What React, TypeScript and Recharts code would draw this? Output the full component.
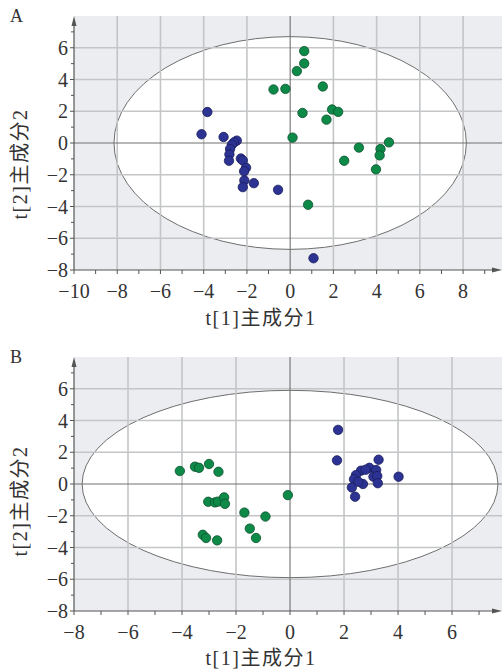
import React from 'react';
import { ScatterChart, Scatter, XAxis, YAxis, ReferenceArea, ReferenceLine, CartesianGrid } from 'recharts';

// ---------- data ----------
const greenA: [number, number][] = [
  [0.65, 5.79], [0.65, 5.01], [0.31, 4.53], [-0.77, 3.37], [-0.22, 3.41], [1.51, 3.56],
  [0.57, 1.89], [1.94, 2.11], [2.22, 1.96], [1.68, 1.47], [0.11, 0.34], [3.18, -0.29],
  [4.57, 0.04], [4.18, -0.38], [4.14, -0.78], [3.97, -1.66], [2.5, -1.12], [0.83, -3.89],
];
const blueA: [number, number][] = [
  [-3.83, 1.95], [-4.1, 0.55], [-3.08, 0.38], [-2.47, 0.15], [-2.6, 0.04], [-2.7, -0.11],
  [-2.78, -0.38], [-2.81, -0.72], [-2.83, -1.12], [-2.28, -0.98], [-2.19, -1.1], [-2.04, -1.56],
  [-2.13, -1.78], [-2.12, -2.36], [-1.68, -2.53], [-2.19, -2.78], [-0.56, -2.95], [1.08, -7.26],
];
const greenB: [number, number][] = [
  [-4.08, 0.82], [-3.52, 1.09], [-3.37, 1.02], [-3.0, 1.26], [-2.65, 0.77], [-3.03, -1.12],
  [-2.78, -1.16], [-2.67, -1.11], [-2.44, -0.84], [-2.41, -1.25], [-1.69, -1.8], [-0.91, -2.05],
  [-1.49, -2.81], [-1.26, -3.4], [-3.23, -3.2], [-3.11, -3.4], [-2.7, -3.55], [-0.08, -0.7],
];
const blueB: [number, number][] = [
  [1.78, 3.41], [1.74, 1.49], [3.28, 1.53], [4.02, 0.46], [2.94, 1.02], [2.63, 0.84],
  [2.8, 0.9], [3.19, 0.88], [2.44, 0.56], [2.37, 0.3], [3.09, 0.46], [3.23, 0.5],
  [3.25, 0.05], [2.7, 0.0], [2.53, 0.14], [2.29, -0.22], [2.41, -0.8],
];

const xDomainA: [number, number] = [-10, 9.8];
const xDomainB: [number, number] = [-8, 7.85];
const yDomain: [number, number] = [-8, 8];

const xLabelsA = [-10, -8, -6, -4, -2, 0, 2, 4, 6, 8];
const xTicksA = [-10, -9, -8, -7, -6, -5, -4, -3, -2, -1, 0, 1, 2, 3, 4, 5, 6, 7, 8, 9];
const xLabelsB = [-8, -6, -4, -2, 0, 2, 4, 6];
const xTicksB = [-8, -7, -6, -5, -4, -3, -2, -1, 0, 1, 2, 3, 4, 5, 6, 7];
const yLabels = [-8, -6, -4, -2, 0, 2, 4, 6];
const yTicks = [-8, -7, -6, -5, -4, -3, -2, -1, 0, 1, 2, 3, 4, 5, 6, 7];

const gridXA = [-8, -6, -4, -2, 2, 4, 6, 8];
const gridXB = [-6, -4, -2, 2, 4, 6];
const gridY = [-6, -4, -2, 2, 4, 6];

const ellipseA = { rx: 8.15, ry: 6.7 };
const ellipseB = { rx: 7.7, ry: 5.9 };

const xTitle = 't[1]主成分1';
const yTitle = 't[2]主成分2';

// ---------- styles ----------
const SERIF = "'Liberation Serif', 'Noto Sans CJK SC', serif";
const TEXT = '#333333';
const AXIS = '#555555';
const GRID = '#c4c5c7';
const ZERO = '#707070';
const BG = '#ecedf0';
const GREEN = '#0d8a48';
const GREEN_S = '#0b4f2c';
const BLUE = '#2c3393';
const BLUE_S = '#191d5c';

const fmt = (v: number) => (v < 0 ? '\u2212' + Math.abs(v) : String(v));
const toPts = (arr: [number, number][]) => arr.map(([x, y]) => ({ x, y }));

const makeXTick = (labels: number[]) => (props: any) => {
  const { x, y, payload } = props;
  const v = payload.value;
  const major = labels.includes(v);
  return (
    <g>
      <line x1={x} x2={x} y1={y} y2={y + 4} stroke={AXIS} strokeWidth={1} />
      {major && (
        <text x={x} y={y + 28} textAnchor="middle" fontSize={20} fontFamily={SERIF} fill={TEXT}>
          {fmt(v)}
        </text>
      )}
    </g>
  );
};

const makeYTick = (labels: number[]) => (props: any) => {
  const { x, y, payload } = props;
  const v = payload.value;
  const major = labels.includes(v);
  return (
    <g>
      <line x1={x - (major ? 4 : 3)} x2={x} y1={y} y2={y} stroke={AXIS} strokeWidth={1} />
      {major && (
        <text x={x - 6} y={y + 7} textAnchor="end" fontSize={20} fontFamily={SERIF} fill={TEXT}>
          {fmt(v)}
        </text>
      )}
    </g>
  );
};

const dot = (fill: string, stroke: string) => (p: any) => (
  <circle cx={p.cx} cy={p.cy} r={4.7} fill={fill} stroke={stroke} strokeWidth={0.8} />
);

const ellipseShape = (p: any) => {
  const x = Math.min(p.x, p.x + p.width);
  const y = Math.min(p.y, p.y + p.height);
  const w = Math.abs(p.width);
  const h = Math.abs(p.height);
  return <ellipse cx={x + w / 2} cy={y + h / 2} rx={w / 2} ry={h / 2} fill="#ffffff" stroke="#6e6e6e" strokeWidth={1} />;
};

const vArrow = (p: any) => {
  const x = p.x1;
  const top = Math.min(p.y1, p.y2);
  const bot = Math.max(p.y1, p.y2);
  return (
    <g>
      <line x1={x} x2={x} y1={bot} y2={top + 6} stroke={AXIS} strokeWidth={1.2} />
      <polygon points={`${x - 2.5},${top + 10} ${x + 2.5},${top + 10} ${x},${top}`} fill={AXIS} />
    </g>
  );
};

const hArrow = (p: any) => {
  const y = p.y1;
  const left = Math.min(p.x1, p.x2);
  const right = Math.max(p.x1, p.x2);
  return (
    <g>
      <line x1={left} x2={right - 6} y1={y} y2={y} stroke={AXIS} strokeWidth={1.2} />
      <polygon points={`${right - 10},${y - 2.5} ${right - 10},${y + 2.5} ${right},${y}`} fill={AXIS} />
    </g>
  );
};

type PanelProps = {
  height: number;
  top: number;
  xAxisHeight: number;
  xDomain: [number, number];
  xTicks: number[];
  xLabels: number[];
  gridX: number[];
  ellipse: { rx: number; ry: number };
  green: [number, number][];
  blue: [number, number][];
};

function Panel(props: PanelProps) {
  const { height, top, xAxisHeight, xDomain, xTicks, xLabels, gridX, ellipse, green, blue } = props;
  return (
    <ScatterChart width={502} height={height} margin={{ top, right: 0, left: 0, bottom: 0 }}>
      <CartesianGrid fill={BG} stroke="none" horizontal={false} vertical={false} />
      <XAxis
        type="number"
        dataKey="x"
        domain={xDomain}
        allowDataOverflow
        ticks={xTicks}
        interval={0}
        tickSize={0}
        tickMargin={0}
        axisLine={false}
        tickLine={false}
        height={xAxisHeight}
        tick={makeXTick(xLabels)}
      />
      <YAxis
        type="number"
        dataKey="y"
        domain={yDomain}
        allowDataOverflow
        ticks={yTicks}
        interval={0}
        tickSize={0}
        tickMargin={0}
        axisLine={false}
        tickLine={false}
        width={74}
        tick={makeYTick(yLabels)}
      />
      <ReferenceArea
        x1={-ellipse.rx}
        x2={ellipse.rx}
        y1={-ellipse.ry}
        y2={ellipse.ry}
        shape={ellipseShape}
        ifOverflow="visible"
      />
      {gridX.map((v) => (
        <ReferenceLine key={'gx' + v} x={v} stroke={GRID} strokeWidth={1.6} />
      ))}
      {gridY.map((v) => (
        <ReferenceLine key={'gy' + v} y={v} stroke={GRID} strokeWidth={1.6} />
      ))}
      <ReferenceLine x={0} stroke={ZERO} strokeWidth={1.1} />
      <ReferenceLine y={0} stroke={ZERO} strokeWidth={1.1} />
      <ReferenceLine x={xDomain[0]} shape={vArrow} />
      <ReferenceLine y={yDomain[0]} shape={hArrow} />
      <Scatter data={toPts(green)} shape={dot(GREEN, GREEN_S)} isAnimationActive={false} />
      <Scatter data={toPts(blue)} shape={dot(BLUE, BLUE_S)} isAnimationActive={false} />
    </ScatterChart>
  );
}

export default function App() {
  const titleStyle = { fontFamily: SERIF, fontSize: 20, fill: TEXT, letterSpacing: 1.5 } as const;
  return (
    <div style={{ position: 'absolute', left: 0, top: 0, width: 502, height: 671, background: '#fff' }}>
      <div style={{ position: 'absolute', left: 0, top: 0 }}>
        <Panel
          height={335}
          top={16}
          xAxisHeight={65}
          xDomain={xDomainA}
          xTicks={xTicksA}
          xLabels={xLabelsA}
          gridX={gridXA}
          ellipse={ellipseA}
          green={greenA}
          blue={blueA}
        />
      </div>
      <div style={{ position: 'absolute', left: 0, top: 335 }}>
        <Panel
          height={336}
          top={22}
          xAxisHeight={60}
          xDomain={xDomainB}
          xTicks={xTicksB}
          xLabels={xLabelsB}
          gridX={gridXB}
          ellipse={ellipseB}
          green={greenB}
          blue={blueB}
        />
      </div>
      <svg width={502} height={671} style={{ position: 'absolute', left: 0, top: 0, pointerEvents: 'none' }}>
        <text x={10} y={22} fontFamily={SERIF} fontSize={18} fill={TEXT}>A</text>
        <text x={10} y={363} fontFamily={SERIF} fontSize={18} fill={TEXT}>B</text>
        <text x={261} y={325} textAnchor="middle" style={titleStyle}>{xTitle}</text>
        <text x={261} y={665} textAnchor="middle" style={titleStyle}>{xTitle}</text>
        <text transform="translate(27,164) rotate(-90)" textAnchor="middle" style={titleStyle}>{yTitle}</text>
        <text transform="translate(27,501) rotate(-90)" textAnchor="middle" style={titleStyle}>{yTitle}</text>
      </svg>
    </div>
  );
}
